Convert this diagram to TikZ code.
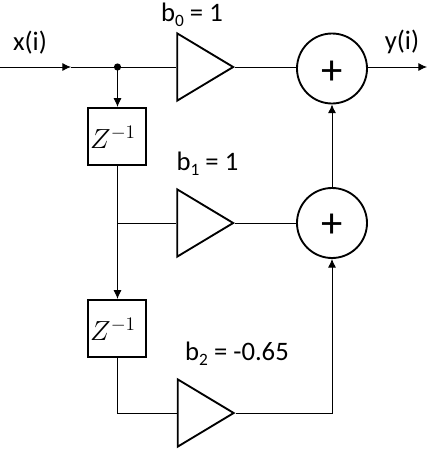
\documentclass[tikz,border=0pt]{standalone}
\usepackage{fontspec}
\setmainfont{Carlito}
\usetikzlibrary{arrows.meta,shapes.geometric}
\newcommand{\lowsub}[1]{\raisebox{-0.45ex}{\fontsize{13pt}{13pt}\selectfont #1}}
\begin{document}
\begin{tikzpicture}[x=0.75pt,y=-0.75pt,
  wire/.style={line width=0.65pt,black},
  arrowed/.style={wire,-{Latex[length=6.5pt,width=6pt]}},
  amp/.style={draw,line width=1.4pt,isosceles triangle,isosceles triangle apex angle=62,minimum height=42pt,inner sep=0pt,anchor=apex},
  sumnode/.style={draw,circle,line width=1.4pt,minimum size=52.5pt,inner sep=0pt},
  plussign/.style={font=\fontsize{32pt}{32pt}\selectfont,inner sep=0pt},
  delay/.style={draw,line width=1.4pt,minimum size=43pt,inner sep=0pt},
  ztext/.style={font=\fontsize{20pt}{20pt}\selectfont,inner sep=0pt},
  lbl/.style={font=\fontsize{20pt}{22pt}\selectfont,inner sep=0pt,anchor=base}]
\useasboundingbox (0,0) rectangle (443,454);
\coordinate (in) at (0,67);
\coordinate (inmid) at (71,67);
\coordinate (out) at (427,67);
\coordinate (j) at (117.5,67);
\coordinate (k) at (117.5,223);
\node[amp] (a0) at (235,67) {};
\node[amp] (a1) at (235,223) {};
\node[amp] (a2) at (235.5,413) {};
\node[sumnode] (s0) at (332,68.5) {};
\node[plussign] (p0) at (332,72.5) {+};
\node[sumnode] (s1) at (332,223) {};
\node[plussign] (p1) at (332,225.5) {+};
\node[delay] (d1) at (117,136.5) {};
\node[ztext] (z1) at (113,137) {$Z^{-1}$};
\node[delay] (d2) at (117,328.5) {};
\node[ztext] (z2) at (113,329) {$Z^{-1}$};
\node[lbl] (lx) at (30,50) {x(i)};
\node[lbl] (ly) at (402,49) {y(i)};
\node[lbl] (lb0) at (192,21) {b\lowsub{0} = 1};
\node[lbl] (lb1) at (207.5,170) {b\lowsub{1} = 1};
\node[lbl] (lb2) at (237,360) {b\lowsub{2} = -0.65};
\fill[black] (j) circle (2.7pt);
\draw[arrowed] (in) -- (inmid);
\draw[wire] (inmid) -- (a0.lower side);
\draw[arrowed] (j) -- (j|-d1.north);
\draw[wire] (a0.apex) -- (s0.west|-a0.apex);
\draw[arrowed] (s0.east|-out) -- (out);
\draw[wire] (k|-d1.south) -- (k);
\draw[arrowed] (k) -- (k|-d2.north);
\draw[wire] (k) -- (a1.lower side);
\draw[wire] (a1.apex) -- (s1.west);
\draw[arrowed] (s1.north) -- (s0.south);
\draw[wire] (k|-d2.south) |- (a2.lower side);
\draw[arrowed] (a2.apex) -| (s1.south);
\end{tikzpicture}
\end{document}
